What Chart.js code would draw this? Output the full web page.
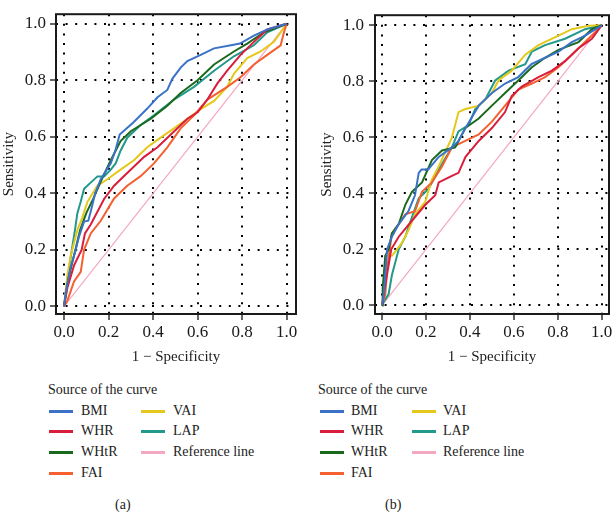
<!DOCTYPE html>
<html>
<head>
<meta charset="utf-8">
<script src="https://cdn.jsdelivr.net/npm/chart.js@4/dist/chart.umd.min.js"></script>
<style>
  body { margin: 0; background: #fff; }
  #wrap { position: relative; width: 615px; height: 513px; overflow: hidden; font-family: "Liberation Serif", "DejaVu Serif", serif; color: #222; }
  canvas { position: absolute; top: 0; }
  .lg { position: absolute; font-size: 14px; line-height: 16px; white-space: nowrap; }
  .sw { position: absolute; width: 24px; height: 3px; }
</style>
</head>
<body>
<div id="wrap">
  <canvas id="rocA" width="307" height="370" style="left:0"></canvas>
  <canvas id="rocB" width="308" height="370" style="left:307px"></canvas>
</div>
<script>
// tick labels, names and colours
const tickValues = [0, 0.2, 0.4, 0.6, 0.8, 1.0];
const seriesNames = ['BMI', 'WHR', 'WHtR', 'FAI', 'VAI', 'LAP'];
const seriesColors = ['#3a72c8', '#d81e3c', '#1a6a1e', '#f46030', '#e5c81c', '#22998a'];
const refName = 'Reference line';
const refColor = '#f4a8c0';
const refLine = [[0, 0], [1, 1]];

// panel (a): [1 - specificity, sensitivity]
const bmiA = [[0,0],[0.01,0.06],[0.03,0.14],[0.049,0.19],[0.067,0.246],[0.09,0.3],[0.109,0.303],[0.124,0.348],[0.14,0.4],[0.165,0.45],[0.21,0.506],[0.23,0.55],[0.25,0.608],[0.31,0.65],[0.374,0.7],[0.42,0.74],[0.464,0.766],[0.487,0.806],[0.524,0.845],[0.554,0.868],[0.614,0.89],[0.674,0.913],[0.75,0.924],[0.79,0.93],[0.853,0.958],[0.913,0.98],[1,1]];
const whrA = [[0,0],[0.015,0.066],[0.045,0.145],[0.079,0.2],[0.094,0.258],[0.12,0.29],[0.18,0.38],[0.225,0.427],[0.284,0.472],[0.36,0.529],[0.42,0.563],[0.494,0.619],[0.554,0.664],[0.6,0.687],[0.644,0.732],[0.689,0.789],[0.733,0.834],[0.793,0.89],[0.853,0.936],[0.913,0.98],[1,1]];
const whtrA = [[0,0],[0.02,0.1],[0.045,0.18],[0.072,0.269],[0.1,0.33],[0.132,0.382],[0.176,0.461],[0.21,0.517],[0.254,0.585],[0.3,0.62],[0.39,0.664],[0.464,0.71],[0.524,0.755],[0.6,0.8],[0.674,0.856],[0.763,0.902],[0.823,0.93],[0.898,0.97],[1,1]];
const faiA = [[0,0],[0.015,0.02],[0.045,0.088],[0.075,0.122],[0.09,0.2],[0.12,0.258],[0.165,0.303],[0.225,0.382],[0.284,0.427],[0.344,0.461],[0.404,0.506],[0.464,0.563],[0.524,0.63],[0.584,0.676],[0.644,0.732],[0.733,0.777],[0.793,0.811],[0.853,0.856],[0.913,0.89],[0.973,0.924],[0.988,0.97],[1,1]];
const vaiA = [[0,0],[0.015,0.11],[0.03,0.18],[0.06,0.27],[0.082,0.314],[0.105,0.37],[0.15,0.427],[0.195,0.45],[0.254,0.484],[0.314,0.517],[0.374,0.563],[0.434,0.597],[0.494,0.63],[0.554,0.664],[0.614,0.698],[0.674,0.727],[0.733,0.777],[0.763,0.823],[0.823,0.879],[0.883,0.902],[0.943,0.936],[1,1]];
const lapA = [[0,0],[0.02,0.12],[0.035,0.2],[0.049,0.269],[0.06,0.33],[0.075,0.37],[0.09,0.416],[0.15,0.46],[0.18,0.46],[0.21,0.484],[0.232,0.506],[0.254,0.551],[0.284,0.597],[0.344,0.642],[0.404,0.676],[0.494,0.732],[0.584,0.777],[0.674,0.834],[0.763,0.885],[0.853,0.924],[0.913,0.97],[1,1]];

// panel (b)
const bmiB = [[0,0],[0.008,0.04],[0.023,0.2],[0.045,0.245],[0.076,0.29],[0.12,0.336],[0.15,0.393],[0.167,0.473],[0.18,0.485],[0.21,0.485],[0.258,0.53],[0.318,0.564],[0.348,0.587],[0.38,0.633],[0.44,0.713],[0.5,0.758],[0.56,0.792],[0.62,0.815],[0.68,0.861],[0.742,0.884],[0.803,0.906],[0.864,0.94],[0.924,0.963],[1,1]];
const whrB = [[0,0],[0.008,0.04],[0.042,0.2],[0.076,0.245],[0.136,0.302],[0.197,0.359],[0.242,0.393],[0.258,0.439],[0.318,0.462],[0.348,0.473],[0.38,0.53],[0.44,0.587],[0.5,0.633],[0.56,0.69],[0.59,0.747],[0.636,0.781],[0.712,0.815],[0.773,0.838],[0.833,0.872],[0.894,0.918],[0.955,0.952],[1,1]];
const whtrB = [[0,0],[0.003,0.063],[0.015,0.177],[0.03,0.2],[0.045,0.257],[0.076,0.29],[0.106,0.359],[0.136,0.405],[0.182,0.439],[0.227,0.519],[0.273,0.553],[0.333,0.564],[0.379,0.633],[0.44,0.667],[0.5,0.713],[0.56,0.758],[0.62,0.803],[0.682,0.85],[0.742,0.884],[0.803,0.912],[0.894,0.94],[0.955,0.986],[1,1]];
const faiB = [[0,0],[0.015,0.04],[0.023,0.13],[0.045,0.257],[0.076,0.29],[0.106,0.325],[0.15,0.336],[0.182,0.405],[0.227,0.439],[0.273,0.496],[0.318,0.564],[0.379,0.587],[0.44,0.61],[0.5,0.656],[0.56,0.713],[0.62,0.77],[0.682,0.792],[0.742,0.815],[0.803,0.85],[0.864,0.895],[0.924,0.94],[0.97,0.975],[1,1]];
const vaiB = [[0,0],[0.003,0.017],[0.015,0.177],[0.045,0.177],[0.09,0.222],[0.12,0.268],[0.15,0.325],[0.197,0.37],[0.227,0.45],[0.258,0.496],[0.318,0.599],[0.348,0.69],[0.379,0.701],[0.44,0.713],[0.5,0.758],[0.53,0.803],[0.59,0.838],[0.652,0.895],[0.712,0.929],[0.803,0.963],[0.864,0.986],[0.94,0.998],[1,1]];
const lapB = [[0,0],[0.003,0.006],[0.03,0.04],[0.045,0.108],[0.076,0.2],[0.106,0.245],[0.136,0.314],[0.167,0.382],[0.212,0.416],[0.258,0.485],[0.318,0.564],[0.348,0.621],[0.394,0.644],[0.424,0.701],[0.47,0.735],[0.515,0.803],[0.576,0.838],[0.652,0.861],[0.682,0.906],[0.742,0.929],[0.833,0.952],[0.924,0.986],[1,1]];

const FONT = '"Liberation Serif", "DejaVu Serif", serif';

const framePlugin = {
  id: 'frame',
  afterDraw(chart) {
    const { ctx, chartArea: a } = chart;
    ctx.save();
    ctx.strokeStyle = '#1a1a1a';
    ctx.lineWidth = 2;
    ctx.strokeRect(a.left, a.top, a.right - a.left, a.bottom - a.top);
    ctx.restore();
  }
};

function makePanel(id, curves, opt) {
  const datasets = curves.map((pts, i) => ({
    label: seriesNames[i],
    data: pts.map(p => ({ x: p[0], y: p[1] })),
    borderColor: seriesColors[i],
    borderWidth: 2,
    showLine: true,
    pointRadius: 0,
    tension: 0
  }));
  datasets.push({
    label: refName,
    data: refLine.map(p => ({ x: p[0], y: p[1] })),
    borderColor: refColor,
    borderWidth: 1.2,
    showLine: true,
    pointRadius: 0
  });

  const axisCommon = {
    type: 'linear',
    afterBuildTicks: s => { s.ticks = tickValues.map(v => ({ value: v })); },
    grid: { color: '#000', lineWidth: 2, tickLength: 6, tickColor: '#000', tickWidth: 1.2, tickBorderDash: [] },
    border: { display: false, dash: [2, 7.6] }
  };

  new Chart(document.getElementById(id), {
    type: 'scatter',
    data: { datasets },
    options: {
      responsive: false,
      animation: false,
      devicePixelRatio: 1,
      layout: { padding: { top: opt.top, right: opt.right, left: 0, bottom: 0 } },
      plugins: { legend: { display: false }, tooltip: { enabled: false } },
      scales: {
        x: {
          ...axisCommon,
          min: opt.xMin, max: opt.xMax,
          afterFit: s => { s.height = 56; },
          ticks: { color: '#1a1a1a', padding: 2, font: { family: FONT, size: 17 }, callback: v => v.toFixed(1) },
          title: { display: true, text: '1 \u2212 Specificity', color: '#222', font: { family: FONT, size: 15 }, padding: { top: 0, bottom: 4 } }
        },
        y: {
          ...axisCommon,
          min: opt.yMin, max: opt.yMax,
          afterFit: s => { s.width = opt.yWidth; },
          ticks: { color: '#1a1a1a', padding: opt.yPad, font: { family: FONT, size: 17 }, callback: v => v.toFixed(1) },
          title: { display: true, text: 'Sensitivity', color: '#222', font: { family: FONT, size: 15 }, padding: { top: opt.yTitlePad, bottom: 0 } }
        }
      }
    },
    plugins: [framePlugin]
  });
}

makePanel('rocA', [bmiA, whrA, whtrA, faiA, vaiA, lapA],
  { top: 1, right: 11, yWidth: 56, yPad: 4, yTitlePad: 0.5, xMin: -0.036, xMax: 1.042, yMin: -0.027, yMax: 1.034 });
makePanel('rocB', [bmiB, whrB, whtrB, faiB, vaiB, lapB],
  { top: 2, right: 6, yWidth: 68, yPad: 5, yTitlePad: 11, xMin: -0.032, xMax: 1.033, yMin: -0.031, yMax: 1.036 });

// legends below each panel
const rowY = [411, 431, 452, 473];
const wrap = document.getElementById('wrap');
function addText(text, x, yc) {
  const d = document.createElement('div');
  d.className = 'lg';
  d.textContent = text;
  d.style.left = x + 'px';
  d.style.top = (yc - 8) + 'px';
  wrap.appendChild(d);
}
function addSwatch(color, x, yc) {
  const d = document.createElement('div');
  d.className = 'sw';
  d.style.background = color;
  d.style.left = x + 'px';
  d.style.top = (yc - 1.5) + 'px';
  wrap.appendChild(d);
}
function addLegend(L, tag, tagX) {
  addText('Source of the curve', L.title, 390);
  const items = seriesNames.map((n, i) => [n, seriesColors[i]]).concat([[refName, refColor]]);
  items.forEach((it, i) => {
    const col = i < 4 ? 0 : 1;
    const row = i < 4 ? i : i - 4;
    addSwatch(it[1], L.sw[col], rowY[row]);
    addText(it[0], L.tx[col], rowY[row]);
  });
  addText(tag, tagX, 505);
}
addLegend({ title: 48, sw: [49, 141], tx: [81, 173] }, '(a)', 115);
addLegend({ title: 318, sw: [320, 412], tx: [351, 443] }, '(b)', 385);
</script>
</body>
</html>
